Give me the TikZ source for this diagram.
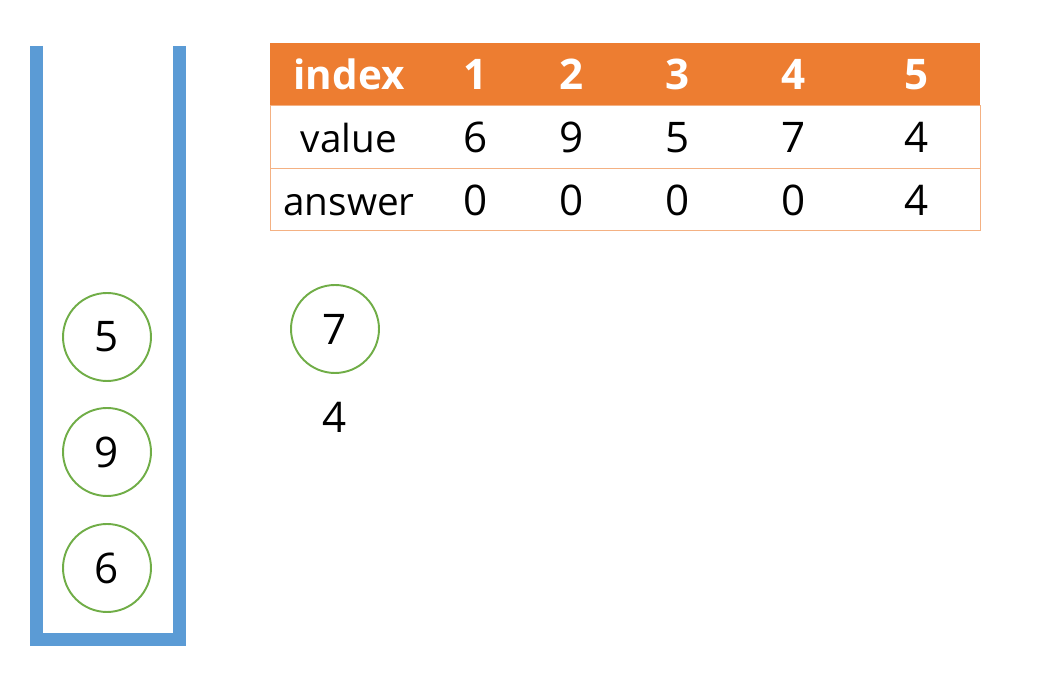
\documentclass[tikz,border=0pt]{standalone}
\usepackage{fontspec}
\setmainfont{Open Sans}
\definecolor{hdrorange}{HTML}{ED7D31}
\definecolor{gridorange}{HTML}{F4B183}
\definecolor{stackblue}{HTML}{5B9BD5}
\definecolor{ballgreen}{HTML}{70AD47}

\begin{document}
\begin{tikzpicture}[x=0.02cm,y=-0.02cm,
    txt/.style={anchor=base,font=\fontsize{24}{28}\selectfont},
    hdr/.style={anchor=base,font=\fontsize{24}{28}\selectfont\bfseries,text=white},
    ball/.style={circle,draw=ballgreen,line width=1.1pt,minimum size=1.76cm,inner sep=0pt,font=\fontsize{24}{28}\selectfont}]
    \useasboundingbox (0,0) rectangle (1049,695);
    % Stack
    \draw[stackblue,line width=0.26cm] (36.5,46) -- (36.5,640) -- (179.5,640) -- (179.5,46);
    \node[ball] (s3) at (107,337) {5};
    \node[ball] (s2) at (107,452) {9};
    \node[ball] (s1) at (107,568) {6};
    % Table
    \fill[hdrorange] (270,43) rectangle (980,105);
    \draw[gridorange] (270,105) rectangle (980,230);
    \draw[gridorange] (270,168) -- (980,168);
    \node[hdr,font=\fontsize{23}{28}\selectfont\bfseries] (hidx) at (349,90) {index};
    \node[txt,font=\fontsize{22}{28}\selectfont] (vidx) at (349,153) {value};
    \node[txt,font=\fontsize{22}{28}\selectfont] (aidx) at (349,216) {answer};
    \foreach \i/\x/\v/\a in {1/476/6/0,2/572/9/0,3/678/5/0,4/794/7/0,5/917/4/4} {
        \node[hdr] (h\i) at (\x,90) {\i};
        \node[txt] (v\i) at (\x,153) {\v};
        \node[txt] (a\i) at (\x,216) {\a};
    }
    % Current element
    \node[ball] (cur) at (335,329) {7};
    \node[txt] (top) at (335,433) {4};
\end{tikzpicture}
\end{document}
